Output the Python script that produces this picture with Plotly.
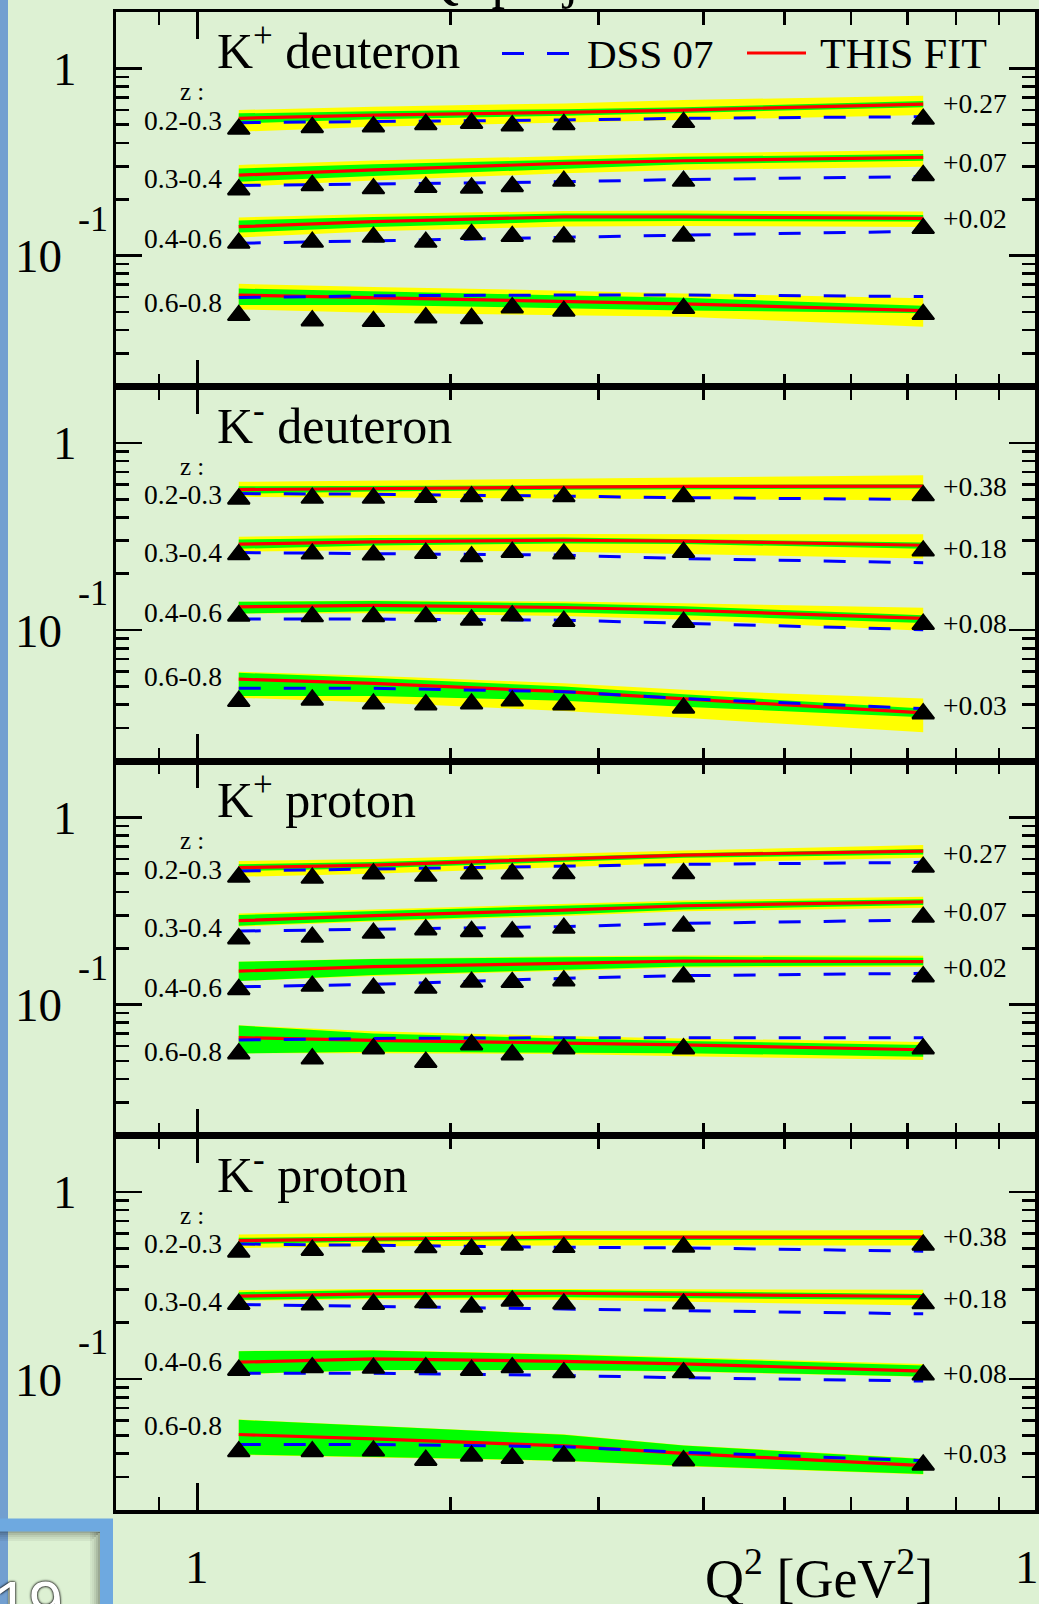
import math
import plotly.graph_objects as go

W, H = 1039, 1604
FONT = "Liberation Serif, Times New Roman, serif"

# ---------------- data (plotted values, offsets already added) ----------------
q2_points = [1.12, 1.37, 1.62, 1.87, 2.12, 2.37, 2.73, 3.79, 7.31]
q2_curve = [1.12, 1.62, 2.73, 3.79, 7.31]
z_bins = ["0.2-0.3", "0.3-0.4", "0.4-0.6", "0.6-0.8"]
panel_titles = ["K<sup>+</sup> deuteron", "K<sup>-</sup> deuteron",
                "K<sup>+</sup> proton", "K<sup>-</sup> proton"]
kplus_offsets = ["+0.27", "+0.07", "+0.02", ""]
kminus_offsets = ["+0.38", "+0.18", "+0.08", "+0.03"]

# K+ deuteron
kpd_hermes = [
    [0.474, 0.484, 0.488, 0.502, 0.510, 0.494, 0.502, 0.515, 0.536],
    [0.225, 0.237, 0.228, 0.232, 0.230, 0.234, 0.250, 0.250, 0.268],
    [0.1167, 0.1181, 0.1256, 0.1181, 0.1299, 0.1268, 0.1263, 0.1272, 0.1398],
    [0.0480, 0.0449, 0.0446, 0.0466, 0.0462, 0.0527, 0.0506, 0.0523, 0.0486],
]
kpd_fit = [
    [0.541, 0.563, 0.582, 0.599, 0.645],
    [0.269, 0.287, 0.311, 0.321, 0.335],
    [0.1427, 0.152, 0.161, 0.161, 0.158],
    [0.0616, 0.0597, 0.0568, 0.0552, 0.0508],
]
kpd_dss = [
    [0.513, 0.519, 0.530, 0.541, 0.552],
    [0.237, 0.241, 0.248, 0.255, 0.264],
    [0.1164, 0.120, 0.1263, 0.1287, 0.1349],
    [0.0597, 0.0610, 0.0616, 0.0616, 0.0605],
]
kpd_outer_hi = [
    [0.599, 0.624, 0.650, 0.677, 0.715],
    [0.305, 0.322, 0.340, 0.352, 0.366],
    [0.160, 0.167, 0.173, 0.174, 0.172],
    [0.0707, 0.068, 0.065, 0.0628, 0.0592],
]
kpd_outer_lo = [
    [0.459, 0.488, 0.513, 0.530, 0.563],
    [0.233, 0.252, 0.275, 0.287, 0.298],
    [0.125, 0.135, 0.143, 0.144, 0.142],
    [0.0516, 0.0495, 0.048, 0.0472, 0.0417],
]
kpd_inner_hi = [
    [0.575, 0.590, 0.605, 0.620, 0.669],
    [0.292, 0.308, 0.325, 0.337, 0.349],
    [0.154, 0.161, 0.168, 0.168, 0.165],
    [0.0667, 0.0645, 0.0612, 0.0595, 0.054],
]
kpd_inner_lo = [
    [0.508, 0.535, 0.558, 0.578, 0.619],
    [0.248, 0.266, 0.292, 0.308, 0.321],
    [0.1327, 0.142, 0.152, 0.153, 0.152],
    [0.0545, 0.0545, 0.0525, 0.051, 0.0493],
]

# K- deuteron
kmd_hermes = [
    [0.502, 0.507, 0.507, 0.513, 0.517, 0.523, 0.517, 0.517, 0.523],
    [0.2532, 0.2554, 0.2524, 0.2576, 0.2470, 0.2608, 0.2554, 0.2608, 0.2650],
    [0.1191, 0.1181, 0.1181, 0.1181, 0.1134, 0.1195, 0.1116, 0.1103, 0.1076],
    [0.0417, 0.0424, 0.0404, 0.0400, 0.0404, 0.0419, 0.0400, 0.0384, 0.0358],
]
kmd_fit = [
    [0.563, 0.572, 0.580, 0.585, 0.587],
    [0.288, 0.296, 0.302, 0.299, 0.284],
    [0.1331, 0.1354, 0.1321, 0.1277, 0.1155],
    [0.0547, 0.0519, 0.0469, 0.0431, 0.0361],
]
kmd_dss = [
    [0.536, 0.532, 0.519, 0.510, 0.498],
    [0.2595, 0.257, 0.2515, 0.241, 0.229],
    [0.1145, 0.1145, 0.1130, 0.1084, 0.1006],
    [0.0489, 0.0489, 0.0469, 0.0431, 0.0381],
]
kmd_outer_hi = [
    [0.619, 0.630, 0.645, 0.655, 0.672],
    [0.315, 0.322, 0.326, 0.326, 0.325],
    [0.1418, 0.144, 0.142, 0.139, 0.1316],
    [0.0600, 0.057, 0.052, 0.048, 0.0431],
]
kmd_outer_lo = [
    [0.515, 0.512, 0.505, 0.500, 0.494],
    [0.262, 0.268, 0.262, 0.255, 0.241],
    [0.1227, 0.123, 0.119, 0.114, 0.0991],
    [0.0435, 0.041, 0.037, 0.034, 0.0285],
]
kmd_inner_hi = [
    [0.587, 0.590, 0.595, 0.598, 0.601],
    [0.305, 0.310, 0.312, 0.306, 0.294],
    [0.1418, 0.143, 0.139, 0.134, 0.120],
    [0.0592, 0.0555, 0.050, 0.0455, 0.0381],
]
kmd_inner_lo = [
    [0.534, 0.550, 0.562, 0.567, 0.570],
    [0.272, 0.283, 0.290, 0.288, 0.272],
    [0.1227, 0.126, 0.124, 0.120, 0.1092],
    [0.0445, 0.0445, 0.042, 0.039, 0.0342],
]

# K+ proton
kpp_hermes = [
    [0.480, 0.474, 0.500, 0.486, 0.500, 0.500, 0.502, 0.502, 0.543],
    [0.2250, 0.2295, 0.2410, 0.2513, 0.2461, 0.2452, 0.2563, 0.2627, 0.2935],
    [0.1206, 0.1256, 0.1226, 0.1226, 0.1319, 0.1315, 0.1342, 0.1410, 0.1410],
    [0.0547, 0.0514, 0.0582, 0.0493, 0.0611, 0.0540, 0.0582, 0.0582, 0.0582],
]
kpp_fit = [
    [0.539, 0.556, 0.600, 0.629, 0.661],
    [0.2807, 0.2986, 0.3196, 0.3372, 0.3541],
    [0.1511, 0.1594, 0.1661, 0.171, 0.1695],
    [0.0666, 0.0645, 0.0623, 0.0609, 0.0574],
]
kpp_dss = [
    [0.517, 0.530, 0.545, 0.561, 0.575],
    [0.2470, 0.2532, 0.2608, 0.2717, 0.2830],
    [0.1245, 0.1283, 0.1382, 0.1428, 0.1469],
    [0.0647, 0.0660, 0.0666, 0.0666, 0.0666],
]
kpp_outer_hi = [
    [0.584, 0.600, 0.640, 0.665, 0.711],
    [0.307, 0.322, 0.343, 0.360, 0.377],
    [0.1695, 0.176, 0.181, 0.183, 0.1823],
    [0.0776, 0.072, 0.068, 0.066, 0.0631],
]
kpp_outer_lo = [
    [0.482, 0.500, 0.540, 0.570, 0.609],
    [0.261, 0.278, 0.297, 0.315, 0.329],
    [0.1335, 0.142, 0.152, 0.158, 0.1594],
    [0.0549, 0.055, 0.0545, 0.053, 0.0506],
]
kpp_inner_hi = [
    [0.561, 0.578, 0.617, 0.643, 0.677],
    [0.301, 0.316, 0.336, 0.352, 0.365],
    [0.1695, 0.175, 0.179, 0.180, 0.178],
    [0.0773, 0.070, 0.066, 0.064, 0.0609],
]
kpp_inner_lo = [
    [0.517, 0.535, 0.580, 0.608, 0.634],
    [0.264, 0.281, 0.303, 0.322, 0.340],
    [0.1335, 0.144, 0.154, 0.160, 0.1625],
    [0.0549, 0.056, 0.0555, 0.055, 0.0527],
]

# K- proton
kmp_hermes = [
    [0.478, 0.488, 0.508, 0.504, 0.494, 0.521, 0.506, 0.508, 0.521],
    [0.2513, 0.2494, 0.2513, 0.2563, 0.2430, 0.2617, 0.2524, 0.2524, 0.2532],
    [0.1116, 0.1152, 0.1145, 0.1152, 0.1116, 0.1152, 0.1084, 0.1084, 0.1054],
    [0.0410, 0.0410, 0.0414, 0.0369, 0.0389, 0.0378, 0.0389, 0.0367, 0.0348],
]
kmp_fit = [
    [0.549, 0.561, 0.573, 0.573, 0.573],
    [0.2775, 0.2851, 0.2875, 0.2830, 0.2762],
    [0.1232, 0.1283, 0.1245, 0.1206, 0.1103],
    [0.0506, 0.0480, 0.0440, 0.0401, 0.0345],
]
kmp_dss = [
    [0.527, 0.517, 0.506, 0.502, 0.482],
    [0.2502, 0.2452, 0.2372, 0.2322, 0.2231],
    [0.1076, 0.1076, 0.1046, 0.1017, 0.0977],
    [0.0448, 0.0448, 0.0435, 0.0407, 0.0367],
]
kmp_outer_hi = [
    [0.592, 0.605, 0.618, 0.622, 0.626],
    [0.2986, 0.303, 0.303, 0.302, 0.300],
    [0.1415, 0.1425, 0.136, 0.131, 0.1206],
    [0.0608, 0.0562, 0.0507, 0.0444, 0.0377],
]
kmp_outer_lo = [
    [0.502, 0.512, 0.517, 0.517, 0.517],
    [0.2627, 0.267, 0.265, 0.258, 0.247],
    [0.1062, 0.1115, 0.1115, 0.1095, 0.1028],
    [0.0394, 0.0383, 0.0365, 0.0343, 0.0309],
]
kmp_inner_hi = [
    [0.568, 0.578, 0.584, 0.584, 0.584],
    [0.2914, 0.299, 0.299, 0.294, 0.285],
    [0.1410, 0.142, 0.135, 0.129, 0.1181],
    [0.0606, 0.056, 0.0505, 0.0442, 0.0375],
]
kmp_inner_lo = [
    [0.527, 0.543, 0.554, 0.555, 0.554],
    [0.2650, 0.271, 0.274, 0.271, 0.265],
    [0.1065, 0.112, 0.112, 0.110, 0.1034],
    [0.0396, 0.0385, 0.0367, 0.0345, 0.0311],
]

panels = [
    dict(hermes=kpd_hermes, fit=kpd_fit, dss=kpd_dss, ohi=kpd_outer_hi, olo=kpd_outer_lo,
         ihi=kpd_inner_hi, ilo=kpd_inner_lo, offsets=kplus_offsets),
    dict(hermes=kmd_hermes, fit=kmd_fit, dss=kmd_dss, ohi=kmd_outer_hi, olo=kmd_outer_lo,
         ihi=kmd_inner_hi, ilo=kmd_inner_lo, offsets=kminus_offsets),
    dict(hermes=kpp_hermes, fit=kpp_fit, dss=kpp_dss, ohi=kpp_outer_hi, olo=kpp_outer_lo,
         ihi=kpp_inner_hi, ilo=kpp_inner_lo, offsets=kplus_offsets),
    dict(hermes=kmp_hermes, fit=kmp_fit, dss=kmp_dss, ohi=kmp_outer_hi, olo=kmp_outer_lo,
         ihi=kmp_inner_hi, ilo=kmp_inner_lo, offsets=kminus_offsets),
]

# ---------------- geometry (pixels) ----------------
X_LEFT, X_RIGHT = 116, 1035
PANEL_TOPS = [12, 386.5, 761, 1135.5]
PANEL_H = 374.5
OFFSET_BASELINES = [[101, 160, 216], [109.5, 171.5, 246.5, 328.5],
                    [102, 159.7, 215.7], [110.5, 172.5, 247.5, 327.5]]
ZLABEL_BASELINES = [118, 176, 236, 300]

BG = "#ddf1d3"
YELLOW = "#ffff00"
GREEN = "#00ff00"
RED = "#ff0000"
BLUE = "#0000ff"


def fx(px):
    return px / W


def fy(py):
    return 1 - py / H


def text_at(txt, x_px, baseline_px, size, xanchor="left", color="black", family=FONT, **kw):
    return dict(text=txt, x=fx(x_px), y=fy(baseline_px + 0.216 * size + 2),
                xref="paper", yref="paper", xanchor=xanchor, yanchor="bottom",
                showarrow=False, font=dict(family=family, size=size, color=color), **kw)


fig = go.Figure()
layout = {}
annotations = []
shapes = []

x_minor = [0.9, 2, 3, 4, 5, 6, 7, 8, 9]
y_minor = [0.03, 0.04, 0.05, 0.06, 0.07, 0.08, 0.09,
           0.2, 0.3, 0.4, 0.5, 0.6, 0.7, 0.8, 0.9]

for k, P in enumerate(panels):
    sfx = "" if k == 0 else str(k + 1)
    xa, ya = "x" + sfx, "y" + sfx
    top = PANEL_TOPS[k]

    common = dict(showline=True, linecolor="black", linewidth=3.5, mirror="allticks",
                  ticks="inside", tickcolor="black", tickwidth=2.6, showgrid=False,
                  zeroline=False, showticklabels=False, fixedrange=True)
    layout["xaxis" + sfx] = dict(type="log", range=[math.log10(0.8), 0.997],
                                 domain=[fx(X_LEFT), fx(X_RIGHT)], anchor=ya,
                                 tickmode="array", tickvals=[1, 10], ticklen=27,
                                 minor=dict(tickmode="array", tickvals=x_minor, ticks="inside",
                                            ticklen=13, tickwidth=2.6, tickcolor="black",
                                            showgrid=False),
                                 **common)
    layout["yaxis" + sfx] = dict(type="log", range=[math.log10(0.02), math.log10(2)],
                                 domain=[fy(top + PANEL_H), fy(top)], anchor=xa,
                                 tickmode="array", tickvals=[0.1, 1], ticklen=26,
                                 minor=dict(tickmode="array", tickvals=y_minor, ticks="inside",
                                            ticklen=13, tickwidth=2.6, tickcolor="black",
                                            showgrid=False),
                                 **common)

    for j in range(4):
        fig.add_trace(go.Scatter(x=q2_curve + q2_curve[::-1], y=P["ohi"][j] + P["olo"][j][::-1],
                                 fill="toself", fillcolor=YELLOW, line=dict(width=0), mode="lines",
                                 xaxis=xa, yaxis=ya, hoverinfo="skip", showlegend=False))
    for j in range(4):
        fig.add_trace(go.Scatter(x=q2_curve + q2_curve[::-1], y=P["ihi"][j] + P["ilo"][j][::-1],
                                 fill="toself", fillcolor=GREEN, line=dict(width=0), mode="lines",
                                 xaxis=xa, yaxis=ya, hoverinfo="skip", showlegend=False))
    for j in range(4):
        fig.add_trace(go.Scatter(x=q2_curve, y=P["fit"][j], mode="lines", name="THIS FIT",
                                 line=dict(color=RED, width=3.2), xaxis=xa, yaxis=ya,
                                 showlegend=False))
        fig.add_trace(go.Scatter(x=q2_curve, y=P["dss"][j], mode="lines", name="DSS 07",
                                 line=dict(color=BLUE, width=3, dash="22px,23px"),
                                 xaxis=xa, yaxis=ya, showlegend=False))
    for j in range(4):
        fig.add_trace(go.Scatter(x=q2_points, y=P["hermes"][j], mode="markers", name="HERMES",
                                 marker=dict(symbol="triangle-up", size=19, color="black",
                                             line=dict(width=2, color="black")),
                                 xaxis=xa, yaxis=ya, showlegend=False))

    # panel title
    annotations.append(text_at(panel_titles[k], 215, top + 56.3, 50))
    # z labels
    annotations.append(text_at("z :", 178, top + 88, 25))
    for j, zb in enumerate(z_bins):
        annotations.append(text_at(zb, 224, top + ZLABEL_BASELINES[j], 27.5, xanchor="right"))
    # offsets
    for j, off in enumerate(P["offsets"]):
        if off:
            annotations.append(text_at(off, 941, top + OFFSET_BASELINES[k][j], 27.5))
    # y tick labels
    annotations.append(text_at("1", 65, top + 72.5, 47, xanchor="center"))
    annotations.append(text_at("10", 38.5, top + 260, 47, xanchor="center"))
    annotations.append(text_at("-1", 93, top + 219, 36, xanchor="center"))

# legend (panel 1)
annotations.append(text_at("DSS 07", 585, 68.3, 41))
annotations.append(text_at("THIS FIT", 818, 68.3, 42))
shapes.append(dict(type="line", xref="paper", yref="paper", x0=fx(502), x1=fx(570),
                   y0=fy(53.5), y1=fy(53.5), line=dict(color=BLUE, width=3, dash="22px,23px")))
shapes.append(dict(type="line", xref="paper", yref="paper", x0=fx(747), x1=fx(806),
                   y0=fy(53), y1=fy(53), line=dict(color=RED, width=3.2)))

# bottom x labels
annotations.append(text_at("1", 197, 1583, 47, xanchor="center"))
annotations.append(text_at("10", 1038.6, 1583, 47, xanchor="center"))
annotations.append(text_at("Q<sup>2</sup> [GeV<sup>2</sup>]", 703, 1597, 54))
# cut-off slide title at top
annotations.append(text_at("Q<sup>2</sup> projections", 418, -3, 54))

# slide decorations: left blue strip and page-number frame
shapes.append(dict(type="rect", xref="paper", yref="paper", x0=0, x1=fx(8), y0=0, y1=1,
                   fillcolor="#729fd0", line=dict(width=0), layer="below"))
for i, a in enumerate([0.30, 0.22, 0.15, 0.09, 0.05]):
    shapes.append(dict(type="line", xref="paper", yref="paper", x0=0, x1=fx(100 - i * 2),
                       y0=fy(1532 + i * 2), y1=fy(1532 + i * 2),
                       line=dict(color="rgba(0,0,0,%.2f)" % a, width=2)))
    shapes.append(dict(type="line", xref="paper", yref="paper", x0=fx(99 - i * 2), x1=fx(99 - i * 2),
                       y0=fy(1532), y1=0, line=dict(color="rgba(0,0,0,%.2f)" % a, width=2)))
shapes.append(dict(type="path", xref="paper", yref="paper",
                   path="M %f,%f L %f,%f L %f,%f" % (-0.01, fy(1525), fx(106.5), fy(1525), fx(106.5), -0.01),
                   line=dict(color="#6ea9e0", width=13)))
annotations.append(dict(text="19", x=fx(-8), y=fy(1566), xref="paper", yref="paper",
                        xanchor="left", yanchor="top", showarrow=False,
                        font=dict(family="Liberation Sans", size=62, color="white",
                                  shadow="0px 0px 3px black, 0px 0px 2px black")))

fig.update_layout(
    width=W, height=H, margin=dict(l=0, r=0, t=0, b=0, pad=0, autoexpand=False),
    paper_bgcolor=BG, plot_bgcolor=BG, showlegend=False,
    annotations=annotations, shapes=shapes, **layout,
)

fig.write_html("out.html", include_plotlyjs=True, full_html=True,
               config={"displayModeBar": False, "staticPlot": True},
               post_script="document.body.style.margin='0';document.body.style.overflow='hidden';")
